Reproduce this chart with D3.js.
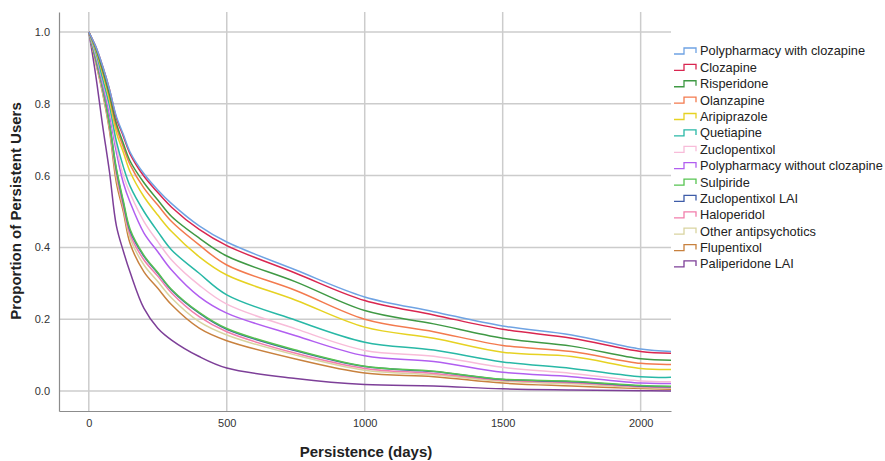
<!DOCTYPE html>
<html>
<head>
<meta charset="utf-8">
<script src="https://cdn.jsdelivr.net/npm/d3@7"></script>
<style>
  body { margin: 0; background: #fff; }
  svg { display: block; font-family: "Liberation Sans", Arial, sans-serif; }
</style>
</head>
<body>
<svg id="chart" width="885" height="461"></svg>
<script>
// days at which the survival proportions were read
const days = [0, 25, 50, 75, 100, 125, 150, 200, 250, 300, 400, 500, 750, 1000, 1250, 1500, 1750, 2000, 2110];

const groups = [
    "Polypharmacy with clozapine", "Clozapine", "Risperidone", "Olanzapine",
    "Aripiprazole", "Quetiapine", "Zuclopentixol", "Polypharmacy without clozapine",
    "Sulpiride", "Zuclopentixol LAI", "Haloperidol", "Other antipsychotics",
    "Flupentixol", "Paliperidone LAI"
];

const colours = [
    "#6fa3e3", "#d92650", "#3f9944", "#f37a4e",
    "#e6d222", "#28b8a6", "#f8bcd9", "#b15ef0",
    "#56c451", "#3e5ca8", "#f27dab", "#d9d4a0",
    "#c8813e", "#7d3f98"
];

const polyWithClozapine = [1, .96, .905, .84, .765, .715, .665, .605, .56, .522, .46, .415, .337, .262, .221, .181, .156, .117, .11];
const clozapine         = [1, .96, .905, .84, .76, .71, .66, .598, .553, .512, .45, .405, .328, .252, .212, .172, .147, .11, .105];
const risperidone       = [1, .955, .895, .825, .745, .69, .64, .58, .532, .486, .426, .376, .304, .224, .187, .147, .125, .09, .086];
const olanzapine        = [1, .955, .89, .82, .735, .68, .63, .565, .518, .472, .407, .351, .28, .2, .165, .127, .11, .077, .074];
const aripiprazole      = [1, .95, .885, .81, .72, .665, .61, .541, .49, .444, .374, .323, .253, .178, .147, .108, .096, .063, .06];
const quetiapine        = [1, .945, .87, .795, .695, .625, .57, .5, .444, .393, .328, .268, .197, .136, .114, .081, .063, .04, .038];
const zuclopentixol     = [1, .94, .865, .785, .68, .6, .55, .472, .416, .365, .295, .242, .173, .113, .097, .066, .049, .028, .026];
const polyNoClozapine   = [1, .935, .855, .77, .665, .58, .525, .44, .388, .337, .263, .217, .154, .098, .082, .052, .04, .022, .021];
const sulpiride         = [1, .925, .845, .745, .62, .53, .45, .378, .33, .283, .219, .174, .114, .069, .055, .033, .027, .015, .013];
const zuclopentixolLAI  = [1, .925, .845, .745, .615, .525, .445, .375, .328, .281, .217, .172, .112, .068, .054, .032, .026, .014, .012];
const haloperidol       = [1, .92, .84, .74, .605, .515, .435, .365, .32, .273, .207, .165, .105, .063, .049, .03, .023, .012, .01];
const otherAntipsych    = [1, .92, .835, .735, .595, .51, .425, .351, .305, .259, .193, .156, .1, .058, .045, .027, .02, .01, .008];
const flupentixol       = [1, .915, .83, .725, .58, .5, .41, .332, .286, .24, .175, .14, .089, .05, .04, .022, .014, .007, .005];
const paliperidoneLAI   = [1, .88, .74, .61, .46, .39, .33, .23, .175, .142, .096, .064, .035, .018, .014, .006, .003, .001, 0];

const seriesValues = [
    polyWithClozapine, clozapine, risperidone, olanzapine, aripiprazole, quetiapine,
    zuclopentixol, polyNoClozapine, sulpiride, zuclopentixolLAI, haloperidol,
    otherAntipsych, flupentixol, paliperidoneLAI
];

const xTicks = [0, 500, 1000, 1500, 2000];
const yTicks = [0, 0.2, 0.4, 0.6, 0.8, 1.0];

const svg = d3.select("#chart");

const plotLeft = 59, plotRight = 671, plotTop = 12, plotBottom = 411;

const x = d3.scaleLinear().domain([-108, 2110]).range([plotLeft, plotRight]);
const y = d3.scaleLinear().domain([-0.0557, 1.0557]).range([plotBottom, plotTop]);

// grid
svg.append("g")
    .attr("stroke", "#cccccc")
    .attr("stroke-width", 1.5)
    .selectAll("line")
    .data(xTicks)
    .join("line")
    .attr("x1", d => x(d)).attr("x2", d => x(d))
    .attr("y1", plotTop).attr("y2", plotBottom);

svg.append("g")
    .attr("stroke", "#cccccc")
    .attr("stroke-width", 1.5)
    .selectAll("line")
    .data(yTicks)
    .join("line")
    .attr("x1", plotLeft).attr("x2", plotRight)
    .attr("y1", d => y(d)).attr("y2", d => y(d));

// axes
const xAxis = svg.append("g")
    .attr("transform", `translate(0,${plotBottom})`)
    .call(d3.axisBottom(x).tickValues(xTicks).tickFormat(d3.format("d")).tickSize(0).tickPadding(8));
const yAxis = svg.append("g")
    .attr("transform", `translate(${plotLeft},0)`)
    .call(d3.axisLeft(y).tickValues(yTicks).tickFormat(d3.format(".1f")).tickSize(0).tickPadding(9));

[xAxis, yAxis].forEach(a => {
    a.select(".domain").attr("stroke", "#8c8c8c").attr("stroke-width", 1.2);
    a.selectAll("text").attr("font-size", 11).attr("fill", "#333")
        .attr("font-family", "'Liberation Sans', Arial, sans-serif");
});

// curves
const line = d3.line()
    .x((d, i) => x(days[i]))
    .y(d => y(d))
    .curve(d3.curveCatmullRom.alpha(0.5));

svg.append("g")
    .attr("fill", "none")
    .attr("stroke-width", 1.5)
    .selectAll("path")
    .data(seriesValues.map((v, i) => ({ values: v, colour: colours[i] })).reverse())
    .join("path")
    .attr("stroke", d => d.colour)
    .attr("d", d => line(d.values));

// axis titles
svg.append("text")
    .attr("x", 366).attr("y", 457)
    .attr("text-anchor", "middle")
    .attr("font-size", 15).attr("font-weight", "bold").attr("fill", "#222")
    .text("Persistence (days)");

svg.append("text")
    .attr("transform", "translate(21,211) rotate(-90)")
    .attr("text-anchor", "middle")
    .attr("font-size", 15).attr("font-weight", "bold").attr("fill", "#222")
    .text("Proportion of Persistent Users");

// legend
const legend = svg.append("g")
    .selectAll("g")
    .data(groups)
    .join("g")
    .attr("transform", (d, i) => `translate(674,${51 + i * 16.38})`);

legend.append("path")
    .attr("fill", "none")
    .attr("stroke-width", 1.3)
    .attr("stroke", (d, i) => colours[i])
    .attr("d", "M0,3H10V-3H22V2");

legend.append("text")
    .attr("x", 26).attr("dy", "0.35em")
    .attr("font-size", 12.8).attr("fill", "#222")
    .text(d => d);
</script>
</body>
</html>
